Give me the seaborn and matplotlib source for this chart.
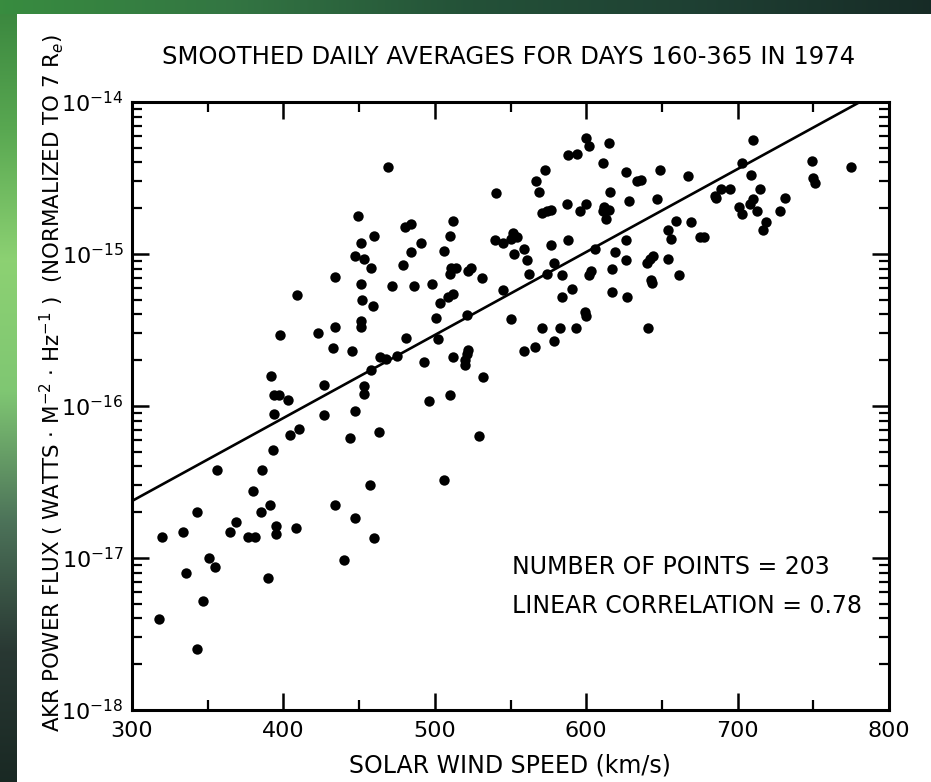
import numpy as np
import pandas as pd
import matplotlib
matplotlib.use("Agg")
import matplotlib.pyplot as plt
import seaborn as sns
from matplotlib.ticker import MultipleLocator, FixedLocator, NullFormatter, LogFormatterSciNotation

# ---------------- data ----------------
# solar wind speed (km/s) and log10 of AKR power flux, grouped by region
speed_a = [469, 449, 460, 451, 447.5, 453, 458, 434, 451.5, 409, 452, 459, 472, 451, 451,
           434, 423, 398, 432.5, 445, 464, 468, 458, 392, 427, 453, 453, 394, 397, 403]
logf_a = [-14.43, -14.75, -14.88, -14.93, -15.01, -15.03, -15.09, -15.15, -15.20, -15.27,
          -15.30, -15.34, -15.21, -15.44, -15.48, -15.48, -15.52, -15.53, -15.62, -15.64,
          -15.68, -15.69, -15.76, -15.80, -15.86, -15.87, -15.92, -15.93, -15.93, -15.96]

speed_b = [393.5, 427, 447, 410, 404.5, 463, 444, 393, 356, 386, 457, 380, 391, 434, 343,
           385, 369, 447, 334, 320, 365, 376.5, 381, 395, 395, 408.5, 460, 351, 355, 335.5,
           440, 390, 347, 318, 343]
logf_b = [-16.05, -16.06, -16.03, -16.15, -16.19, -16.17, -16.21, -16.29, -16.42, -16.42,
          -16.52, -16.56, -16.65, -16.65, -16.70, -16.70, -16.76, -16.74, -16.83, -16.86,
          -16.83, -16.86, -16.86, -16.79, -16.84, -16.80, -16.87, -17.00, -17.06, -17.10,
          -17.01, -17.13, -17.28, -17.40, -17.60]

speed_c = [496, 510, 506, 529]
logf_c = [-15.97, -15.93, -16.49, -16.20]

speed_d = [600, 602, 615, 588, 594, 611, 626.5, 573, 567, 568.5, 616, 540.5, 628, 587, 600,
           596, 611.5, 615, 611, 613, 571, 574, 577, 480, 484, 512, 510, 491, 484.5, 506,
           540, 545, 551.5, 554, 550.5, 559, 577, 588, 552, 561, 479, 511, 514, 510, 524,
           522, 531, 562, 579, 574, 584, 606, 619, 626.5, 626, 603, 602, 617, 486, 498,
           545, 512, 508.5, 503.5, 590.5, 584, 617, 627, 501, 521, 550, 599, 600, 571, 583,
           593.5, 481, 502, 579, 566, 559, 475, 493, 512, 522, 521, 520, 520, 532]
logf_d = [-14.24, -14.29, -14.27, -14.35, -14.34, -14.40, -14.46, -14.45, -14.52, -14.59,
          -14.59, -14.60, -14.65, -14.67, -14.67, -14.72, -14.69, -14.71, -14.72, -14.77,
          -14.73, -14.72, -14.71, -14.82, -14.80, -14.78, -14.88, -14.93, -14.99, -14.98,
          -14.91, -14.93, -14.86, -14.89, -14.90, -14.97, -14.94, -14.91, -15.00, -15.04,
          -15.07, -15.09, -15.09, -15.13, -15.09, -15.11, -15.16, -15.13, -15.06, -15.13,
          -15.14, -14.97, -14.99, -14.91, -15.04, -15.11, -15.14, -15.10, -15.21, -15.20,
          -15.24, -15.26, -15.28, -15.32, -15.23, -15.28, -15.25, -15.28, -15.42, -15.40,
          -15.43, -15.38, -15.41, -15.49, -15.49, -15.49, -15.55, -15.56, -15.57, -15.61,
          -15.64, -15.67, -15.71, -15.68, -15.63, -15.66, -15.70, -15.73, -15.81]

speed_e = [710, 749, 775, 649, 633.5, 636, 667, 703, 709, 750, 751, 647, 685, 686, 689, 695,
           715, 731, 710, 708, 701, 703, 713, 728, 718.5, 717, 659, 654, 656, 669.5, 675,
           678, 644, 642, 640, 654, 643, 643.5, 661, 641]
logf_e = [-14.25, -14.39, -14.43, -14.45, -14.52, -14.51, -14.49, -14.40, -14.48, -14.50,
          -14.53, -14.64, -14.62, -14.63, -14.57, -14.57, -14.57, -14.63, -14.64, -14.67,
          -14.69, -14.74, -14.72, -14.72, -14.79, -14.84, -14.78, -14.84, -14.90, -14.79,
          -14.89, -14.89, -15.01, -15.03, -15.06, -15.03, -15.17, -15.19, -15.14, -15.49]

# regression line (log10 flux = fit_a + fit_b * (v - 300))
fit_a = -16.625
fit_b = 0.00546
fit_range = [300.0, 800.0]

x_ticks = [300, 400, 500, 600, 700, 800]
y_decades = [-18, -17, -16, -15, -14]

title_text = "SMOOTHED DAILY AVERAGES FOR DAYS 160-365 IN 1974"
xlabel_text = "SOLAR WIND SPEED (km/s)"
ylabel_text = (r"AKR POWER FLUX ( WATTS $\cdot$ M$^{-2}$ $\cdot$ Hz$^{-1}$ )  "
               r"(NORMALIZED TO 7 R$_{e}$)")
note1 = "NUMBER OF POINTS = 203"
note2 = "LINEAR CORRELATION = 0.78"

# ---------------- build table ----------------
speed = np.array(speed_a + speed_b + speed_c + speed_d + speed_e, dtype=float)
logf = np.array(logf_a + logf_b + logf_c + logf_d + logf_e, dtype=float)
n = min(len(speed), len(logf))
df = pd.DataFrame({"speed": speed[:n], "flux": 10.0 ** logf[:n]})

fv = np.array(fit_range)
fit_df = pd.DataFrame({"speed": fv, "flux": 10.0 ** (fit_a + fit_b * (fv - 300.0))})

y_major = [10.0 ** d for d in y_decades]
y_minor = [m * 10.0 ** d for d in y_decades[:-1] for m in range(2, 10)]

# ---------------- style ----------------
sns.set_theme(style="ticks")
plt.rcParams["font.family"] = ["DejaVu Sans"]
plt.rcParams["mathtext.fontset"] = "dejavusans"

W, H = 931, 782
fig = plt.figure(figsize=(W / 100, H / 100), dpi=100)
fig.patch.set_facecolor("white")

# decorative photo-like border (green aurora strips), drawn as raw pixels
def gradient(stops, npx):
    stops = np.asarray(stops, dtype=float)
    pos = np.linspace(0, 1, len(stops))
    t = np.linspace(0, 1, npx)
    return np.stack([np.interp(t, pos, stops[:, k]) for k in range(3)], axis=-1)

LW, TH = 17, 14
left_stops = [[0.10, 0.16, 0.14], [0.16, 0.22, 0.20], [0.30, 0.45, 0.35],
              [0.50, 0.78, 0.45], [0.55, 0.82, 0.45], [0.35, 0.66, 0.32],
              [0.22, 0.52, 0.24]]          # bottom -> top
left_img = np.repeat(gradient(left_stops, H)[:, None, :], LW, axis=1)
fig.figimage(left_img, xo=0, yo=0, origin="lower", zorder=0)
top_stops = [[0.22, 0.55, 0.25], [0.20, 0.46, 0.26], [0.14, 0.32, 0.22],
             [0.12, 0.25, 0.20], [0.09, 0.17, 0.15]]   # left -> right
top_img = np.repeat(gradient(top_stops, W)[None, :, :], TH, axis=0)
fig.figimage(top_img, xo=0, yo=H - TH, origin="lower", zorder=0)

ax = fig.add_axes([132 / W, 72 / H, 757 / W, 608 / H])
ax.set_facecolor("white")

sns.scatterplot(data=df, x="speed", y="flux", ax=ax, color="black", s=56,
                edgecolor="black", linewidth=0, zorder=3, legend=False)
sns.lineplot(data=fit_df, x="speed", y="flux", ax=ax, color="black", lw=1.9,
             zorder=2, legend=False)

ax.set_yscale("log")
ax.set_xlim(300, 800)
ax.set_ylim(1e-18, 1e-14)
ax.set_xticks(x_ticks)
ax.xaxis.set_minor_locator(MultipleLocator(50))
ax.yaxis.set_major_locator(FixedLocator(y_major))
ax.yaxis.set_major_formatter(LogFormatterSciNotation())
ax.yaxis.set_minor_locator(FixedLocator(y_minor))
ax.yaxis.set_minor_formatter(NullFormatter())

for s in ax.spines.values():
    s.set_linewidth(2.2)
    s.set_color("black")
ax.tick_params(which="both", direction="in", top=True, right=True, color="black",
               labelcolor="black")
ax.tick_params(which="major", length=12, width=1.8, labelsize=16, pad=8)
ax.tick_params(which="minor", length=7, width=1.6)
ax.tick_params(axis="y", which="major", pad=6)

ax.set_xlabel("")
ax.set_ylabel("")

fig.text(509 / W, 1 - 57 / H, title_text, ha="center", va="center", fontsize=17.5,
         color="black")
fig.text(510 / W, 1 - 765 / H, xlabel_text, ha="center", va="center", fontsize=17,
         color="black")
fig.text(52 / W, 1 - 383 / H, ylabel_text, ha="center", va="center", rotation=90,
         fontsize=15.4, color="black")

ax.text(0.502, 0.235, note1, transform=ax.transAxes, ha="left", va="center",
        fontsize=17, color="black")
ax.text(0.502, 0.171, note2, transform=ax.transAxes, ha="left", va="center",
        fontsize=17, color="black")

fig.savefig("out.png", dpi=100, facecolor=fig.get_facecolor())
